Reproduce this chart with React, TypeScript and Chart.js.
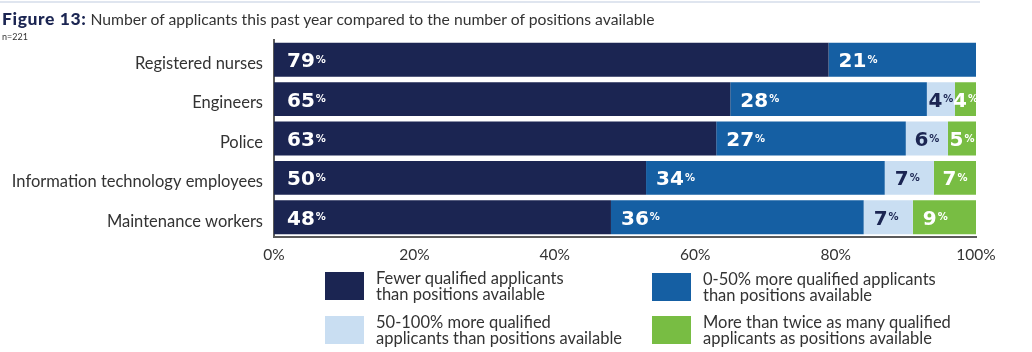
import React, { useEffect, useRef } from "react";
import { Chart, registerables } from "chart.js";

Chart.register(...registerables);

const categories = [
  "Registered nurses",
  "Engineers",
  "Police",
  "Information technology employees",
  "Maintenance workers",
];
const fewerValues = [79, 65, 63, 53, 48];
const fewerLabels = ["79", "65", "63", "50", "48"];
const upTo50Values = [21, 28, 27, 34, 36];
const upTo100Values = [0, 4, 6, 7, 7];
const twiceValues = [0, 4, 5, 7, 9];
const xTicks = ["0%", "20%", "40%", "60%", "80%", "100%"];

const seriesNames = [
  ["Fewer qualified applicants", "than positions available"],
  ["0-50% more qualified applicants", "than positions available"],
  ["50-100% more qualified", "applicants than positions available"],
  ["More than twice as many qualified", "applicants as positions available"],
];
const colors = ["#1b2552", "#155fa3", "#c9def2", "#78bd43"];
const labelColors = ["#ffffff", "#ffffff", "#1b2552", "#ffffff"];

const FONT = "Lato, 'Open Sans', sans-serif";
const NUMFONT = "'DejaVu Sans', sans-serif";

const labelPlugin = {
  id: "segLabels",
  afterDatasetsDraw(chart: any) {
    const ctx = chart.ctx;
    const area = chart.chartArea;
    chart.data.datasets.forEach((ds: any, di: number) => {
      const meta = chart.getDatasetMeta(di);
      meta.data.forEach((bar: any, i: number) => {
        const v = ds.data[i];
        if (!v) return;
        const txt = ds.displayLabels ? ds.displayLabels[i] : String(v);
        const left = Math.min(bar.base, bar.x);
        const right = Math.min(Math.max(bar.base, bar.x), area.right);
        const w = right - left;
        ctx.save();
        ctx.font = `bold 20px ${NUMFONT}`;
        const nw = ctx.measureText(txt).width;
        ctx.font = `bold 10px ${NUMFONT}`;
        const pw = ctx.measureText("%").width;
        const tw = nw + pw + 1;
        const off = di === 0 ? 13 : Math.min(10, (w - tw) / 2);
        const x = left + off;
        const y = bar.y;
        ctx.fillStyle = labelColors[di];
        ctx.textBaseline = "alphabetic";
        ctx.textAlign = "left";
        ctx.font = `bold 20px ${NUMFONT}`;
        ctx.fillText(txt, x, y + 7.5);
        ctx.font = `bold 10px ${NUMFONT}`;
        ctx.fillText("%", x + nw + 1, y + 3);
        ctx.restore();
      });
    });
  },
};

export default function App() {
  const ref = useRef<HTMLCanvasElement | null>(null);

  useEffect(() => {
    document.body.style.margin = "0";
    const canvas = ref.current;
    if (!canvas) return;
    const values = [fewerValues, upTo50Values, upTo100Values, twiceValues];
    const chart = new Chart(canvas, {
      type: "bar",
      data: {
        labels: categories,
        datasets: values.map((d, i) => ({
          label: seriesNames[i].join(" "),
          data: d,
          backgroundColor: colors[i],
          borderWidth: 0,
          barPercentage: 0.86,
          categoryPercentage: 1,
          displayLabels: i === 0 ? fewerLabels : undefined,
        })) as any,
      },
      options: {
        indexAxis: "y",
        responsive: false,
        animation: false,
        maintainAspectRatio: false,
        layout: { padding: { top: 40, right: 56, left: 0, bottom: 0 } },
        plugins: {
          legend: { display: false },
          tooltip: { enabled: false },
          title: { display: false },
        },
        scales: {
          x: {
            stacked: true,
            min: 0,
            max: 100,
            grid: { display: false, drawTicks: false },
            border: { display: true, color: "#5a5a5a", width: 2 },
            ticks: {
              stepSize: 20,
              padding: 9,
              color: "#333333",
              font: { family: FONT, size: 15.5 },
              maxRotation: 0,
              callback: (_v: any, idx: number) => xTicks[idx],
            },
            afterFit: (s: any) => {
              s.height = 115;
            },
          },
          y: {
            stacked: true,
            z: 1,
            grid: { display: false, drawTicks: false },
            border: { display: true, color: "#5a5a5a", width: 2 },
            ticks: {
              padding: 11,
              labelOffset: 4,
              color: "#333333",
              font: { family: FONT, size: 16.5 },
            },
            afterFit: (s: any) => {
              s.width = 274;
            },
          },
        },
      } as any,
      plugins: [labelPlugin],
    });
    return () => chart.destroy();
  }, []);

  const legendPos = [
    { sx: 325, sy: 272, tx: 376 },
    { sx: 652, sy: 273, tx: 703 },
    { sx: 325, sy: 316, tx: 376 },
    { sx: 652, sy: 316, tx: 703 },
  ];

  return (
    <div
      style={{
        position: "relative",
        width: 1032,
        height: 352,
        overflow: "hidden",
        fontFamily: FONT,
        color: "#333333",
      }}
    >
      <canvas ref={ref} width={1032} height={352} style={{ position: "absolute", left: 0, top: 0 }} />
      <div
        style={{
          position: "absolute",
          left: 0,
          top: 1,
          width: 980,
          height: 2,
          background: "#dfe5ef",
        }}
      />
      <div
        style={{
          position: "absolute",
          left: 2,
          top: 9,
          fontSize: 15.7,
          lineHeight: "20px",
          whiteSpace: "nowrap",
        }}
      >
        <span style={{ fontWeight: 900, color: "#1b2552", fontSize: 17.5, letterSpacing: 0.6 }}>
          Figure 13:
        </span>{" "}
        <span>Number of applicants this past year compared to the number of positions available</span>
      </div>
      <div
        style={{
          position: "absolute",
          left: 2,
          top: 31,
          fontSize: 9,
          lineHeight: "12px",
        }}
      >
        n=221
      </div>
      {legendPos.map((p, i) => (
        <React.Fragment key={i}>
          <div
            style={{
              position: "absolute",
              left: p.sx,
              top: p.sy,
              width: 39,
              height: 28,
              background: colors[i],
            }}
          />
          <div
            style={{
              position: "absolute",
              left: p.tx,
              top: p.sy - 1,
              fontSize: 16.5,
              lineHeight: "15.5px",
              whiteSpace: "nowrap",
            }}
          >
            {seriesNames[i][0]}
            <br />
            {seriesNames[i][1]}
          </div>
        </React.Fragment>
      ))}
    </div>
  );
}
